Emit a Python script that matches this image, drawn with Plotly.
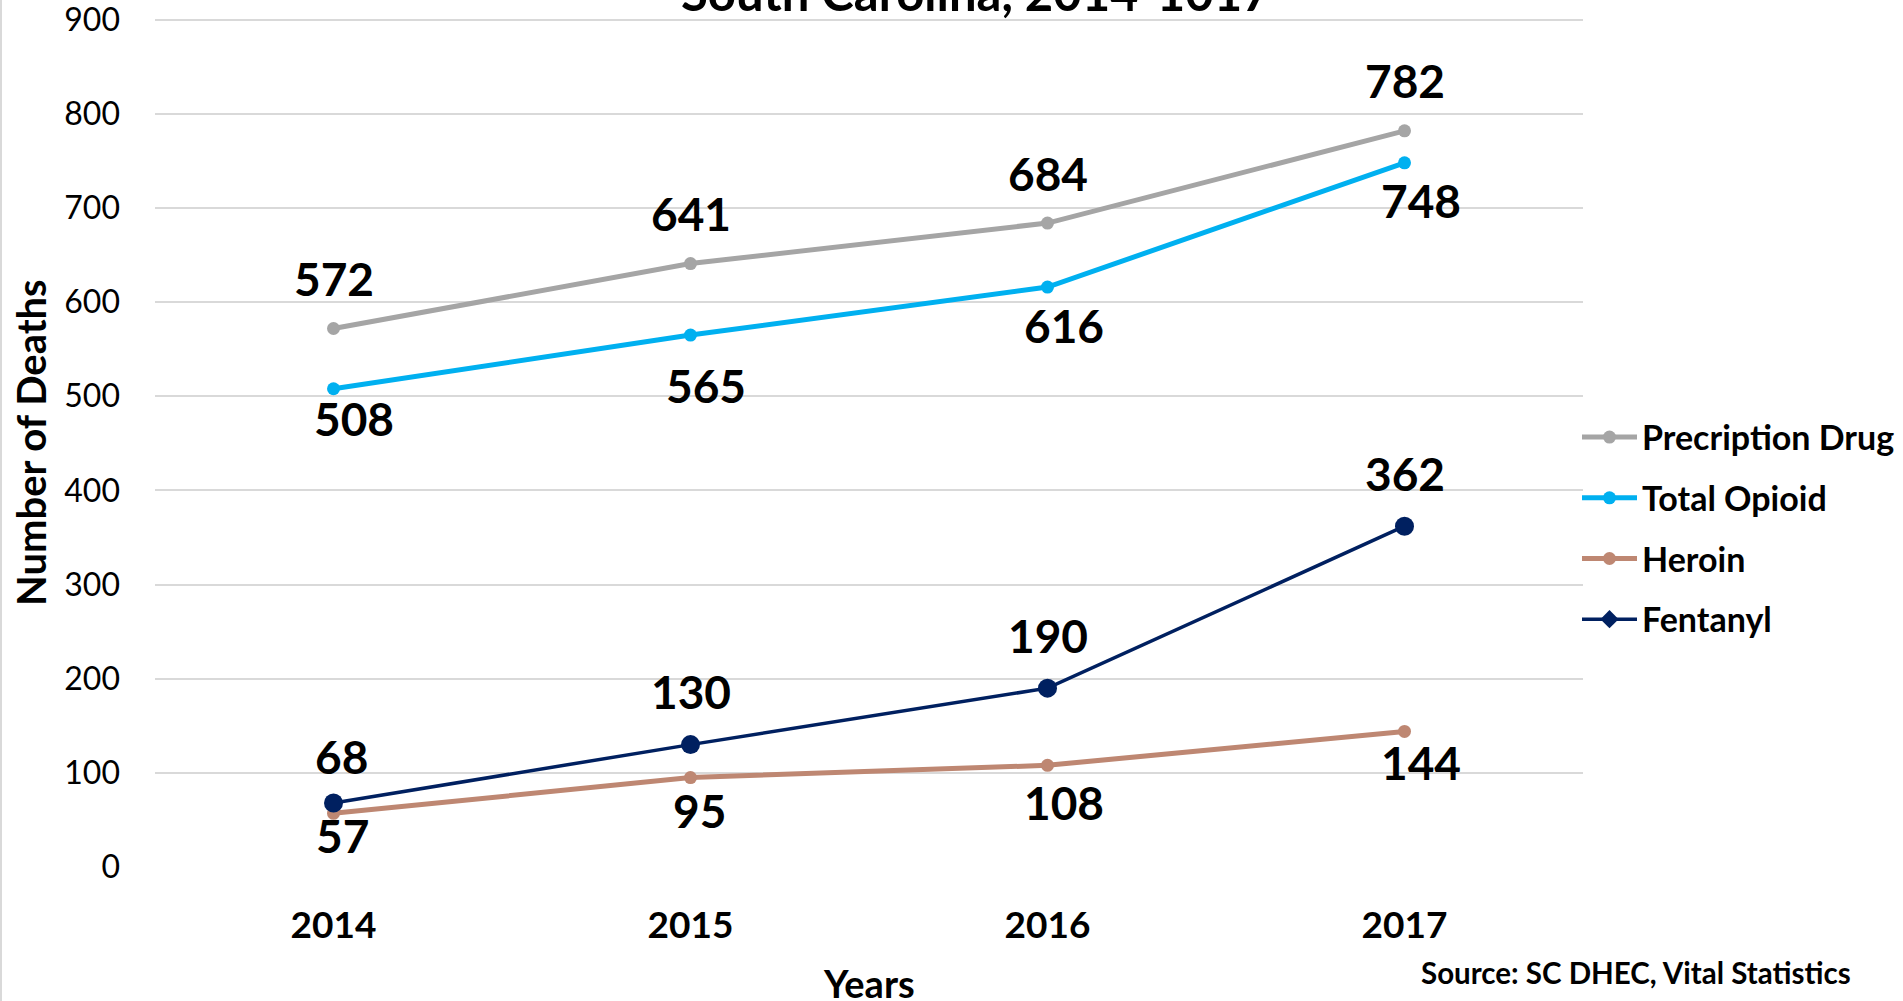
import plotly.graph_objects as go

years = ["2014", "2015", "2016", "2017"]
prescription = [572, 641, 684, 782]
total_opioid = [508, 565, 616, 748]
heroin = [57, 95, 108, 144]
fentanyl = [68, 130, 190, 362]
y_ticks = [0, 100, 200, 300, 400, 500, 600, 700, 800, 900]

FONT = "Lato"
series = [
    dict(name="Precription Drug", y=prescription, color="#A5A5A5", width=5, size=13,
         dy=[50, 50, 50, 50], dx=[0, 0, 0, 0]),
    dict(name="Total Opioid", y=total_opioid, color="#00B0F0", width=5, size=13,
         dy=[-30, -50, -38, -38], dx=[20, 15, 16, 16]),
    dict(name="Heroin", y=heroin, color="#BE8772", width=5, size=13,
         dy=[-22, -33, -37, -31], dx=[9, 9, 16, 16]),
    dict(name="Fentanyl", y=fentanyl, color="#002060", width=3.5, size=19,
         dy=[46, 53, 53, 53], dx=[8, 0, 0, 0]),
]

fig = go.Figure()
for s in series:
    is_fent = s["name"] == "Fentanyl"
    fig.add_trace(go.Scatter(
        x=years, y=s["y"], mode="lines+markers", name=s["name"],
        line=dict(color=s["color"], width=s["width"]),
        marker=dict(color=s["color"], size=s["size"], symbol="circle"),
        showlegend=not is_fent,
    ))
    if is_fent:
        fig.add_trace(go.Scatter(
            x=[None], y=[None], mode="lines+markers", name=s["name"],
            line=dict(color=s["color"], width=s["width"]),
            marker=dict(color=s["color"], size=14, symbol="diamond"),
            showlegend=True,
        ))

annotations = []
for s in series:
    for i, (yv, dx, dy) in enumerate(zip(s["y"], s["dx"], s["dy"])):
        annotations.append(dict(
            x=i, y=yv, xref="x", yref="y", text=str(yv), showarrow=False,
            xshift=dx, yshift=dy, xanchor="center", yanchor="middle",
            font=dict(family=FONT, size=46, color="#000000", weight="bold"),
        ))

PLOT_TOP = 15
PLOT_H = 1001 - PLOT_TOP - 134

def py(px):
    return 1 - (px - PLOT_TOP) / PLOT_H

# title (partially cut off at top)
annotations.append(dict(
    x=0.575, y=py(23), xref="paper", yref="paper", text="South Carolina, 2014-1017",
    showarrow=False, xanchor="center", yanchor="bottom",
    font=dict(family=FONT, size=49, color="#000000", weight="bold"),
))
# axis titles
annotations.append(dict(
    x=0.5, y=py(983), xref="paper", yref="paper", text="Years",
    showarrow=False, xanchor="center", yanchor="middle",
    font=dict(family=FONT, size=38, color="#000000", weight="bold"),
))
annotations.append(dict(
    x=(31 - 155) / 1428, y=py(443), xref="paper", yref="paper", text="Number of Deaths",
    showarrow=False, xanchor="center", yanchor="middle", textangle=-90,
    font=dict(family=FONT, size=40, color="#000000", weight="bold"),
))
annotations.append(dict(
    x=(1636 - 155) / 1428, y=py(973), xref="paper", yref="paper",
    text="Source: SC DHEC, Vital Statistics",
    showarrow=False, xanchor="center", yanchor="middle",
    font=dict(family=FONT, size=29.5, color="#000000", weight="bold"),
))

fig.update_layout(
    width=1903, height=1001,
    margin=dict(l=155, r=320, t=PLOT_TOP, b=134, autoexpand=False),
    plot_bgcolor="white", paper_bgcolor="white",
    annotations=annotations,
    showlegend=True,
    legend=dict(
        x=-6 / 1428 + 1.0, y=py(528.5), xanchor="left", yanchor="middle",
        font=dict(family=FONT, size=34, color="#000000", weight="bold"),
        tracegroupgap=13.5, itemwidth=55, bgcolor="rgba(0,0,0,0)",
    ),
    shapes=[dict(type="line", xref="paper", yref="paper",
                 x0=-154 / 1428, x1=-154 / 1428, y0=py(1001), y1=py(0),
                 line=dict(color="#D9D9D9", width=2))],
)
fig.update_xaxes(
    type="category", range=[-0.5, 3.5], showgrid=False, zeroline=False, showline=False,
    tickfont=dict(family=FONT, size=37, color="#000000", weight="bold"),
    ticklabelstandoff=33, automargin=False, ticklabeloverflow="allow",
)
fig.update_yaxes(
    range=[0, 905], tickvals=y_ticks, showgrid=True, gridcolor="#D9D9D9", gridwidth=1.5,
    zeroline=False, showline=False,
    tickfont=dict(family=FONT, size=32, color="#000000"),
    ticklabelstandoff=34, automargin=False, ticklabeloverflow="allow",
)
for i, tr in enumerate(fig.data):
    tr.legendgroup = "g%d" % i

fig.write_html("out.html", config={"displayModeBar": False},
               post_script="document.body.style.margin='0';document.body.style.overflow='hidden';")
